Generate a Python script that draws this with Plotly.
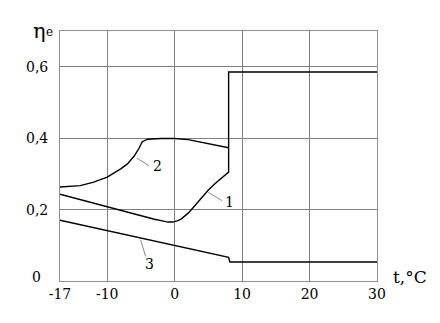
import plotly.graph_objects as go

# Curve 1
t1 = [-17, -10, -5, -3, -2, -1, -0.3, 0.5, 1, 1.5, 2, 2.5, 3, 4, 5, 6, 7, 8, 8, 30]
e1 = [0.243, 0.207, 0.183, 0.173, 0.169, 0.165, 0.165, 0.169, 0.174, 0.181, 0.190, 0.200, 0.211, 0.234, 0.255, 0.273, 0.289, 0.305, 0.585, 0.585]
# Curve 2
t2 = [-17, -14, -12, -10, -8, -7, -6, -5.3, -4.8, -4, -2, 0, 2, 4, 6, 8]
e2 = [0.263, 0.267, 0.277, 0.291, 0.314, 0.328, 0.350, 0.371, 0.390, 0.397, 0.399, 0.399, 0.396, 0.389, 0.382, 0.373]
# Curve 3
t3 = [-17, 8, 8.2, 30]
e3 = [0.170, 0.066, 0.053, 0.053]

x_ticks = [-17, -10, 0, 10, 20, 30]
x_tick_text = ["-17", "-10", "0", "10", "20", "30"]
y_ticks = [0, 0.2, 0.4, 0.6]
y_tick_text = ["0", "0,2", "0,4", "0,6"]

# curve labels: (text, label t, label eta, leader start t, eta, leader end t, eta)
labels = [
    ("1", 8.1, 0.221, 5.0, 0.248, 7.0, 0.225),
    ("2", -2.55, 0.3225, -5.6, 0.344, -3.8, 0.323),
    ("3", -3.66, 0.048, -5.07, 0.116, -4.3, 0.069),
]

FONT = "DejaVu Serif"

fig = go.Figure()
for t, e in [(t1, e1), (t2, e2), (t3, e3)]:
    fig.add_trace(go.Scatter(x=t, y=e, mode="lines",
                             line=dict(color="black", width=1.4),
                             showlegend=False, hoverinfo="skip"))

for txt, lx, ly, sx, sy, ex, ey in labels:
    fig.add_shape(type="line", x0=sx, y0=sy, x1=ex, y1=ey, xref="x", yref="y",
                  line=dict(color="#888888", width=1))
    fig.add_annotation(x=lx, y=ly, xref="x", yref="y", text=txt, showarrow=False,
                       font=dict(family=FONT, size=14, color="black"))

for v, s in zip(y_ticks, y_tick_text):
    fig.add_annotation(x=-0.073, y=v, xref="paper", yref="y", text=s, showarrow=False,
                       xanchor="center", yanchor="middle",
                       yshift=4 if v == 0 else 0,
                       font=dict(family=FONT, size=14, color="black"))

fig.add_annotation(x=-0.066, y=1.0, xref="paper", yref="paper", text="η",
                   showarrow=False, xanchor="center", yanchor="middle",
                   font=dict(family=FONT, size=21, color="black"))
fig.add_annotation(x=-0.034, y=0.995, xref="paper", yref="paper", text="e",
                   showarrow=False, xanchor="center", yanchor="middle",
                   font=dict(family=FONT, size=12, color="black"))
fig.add_annotation(x=1.103, y=0.018, xref="paper", yref="paper", text="t,°C",
                   showarrow=False, xanchor="center", yanchor="middle",
                   font=dict(family=FONT, size=17, color="black"))

fig.update_xaxes(range=[-17, 30], tickvals=x_ticks, ticktext=x_tick_text, ticks="",
                 showgrid=True, gridcolor="#808080", gridwidth=1,
                 showline=True, linecolor="#909090", linewidth=1, mirror=True,
                 zeroline=False, tickfont=dict(family=FONT, size=14, color="black"))
fig.update_yaxes(range=[0, 0.7], tickvals=y_ticks, showticklabels=False, ticks="",
                 showgrid=True, gridcolor="#808080", gridwidth=1,
                 showline=True, linecolor="#909090", linewidth=1, mirror=True,
                 zeroline=False)

fig.update_layout(width=440, height=323, margin=dict(l=60, r=63, t=31, b=42),
                  plot_bgcolor="white", paper_bgcolor="white")

fig.write_html("out.html")
